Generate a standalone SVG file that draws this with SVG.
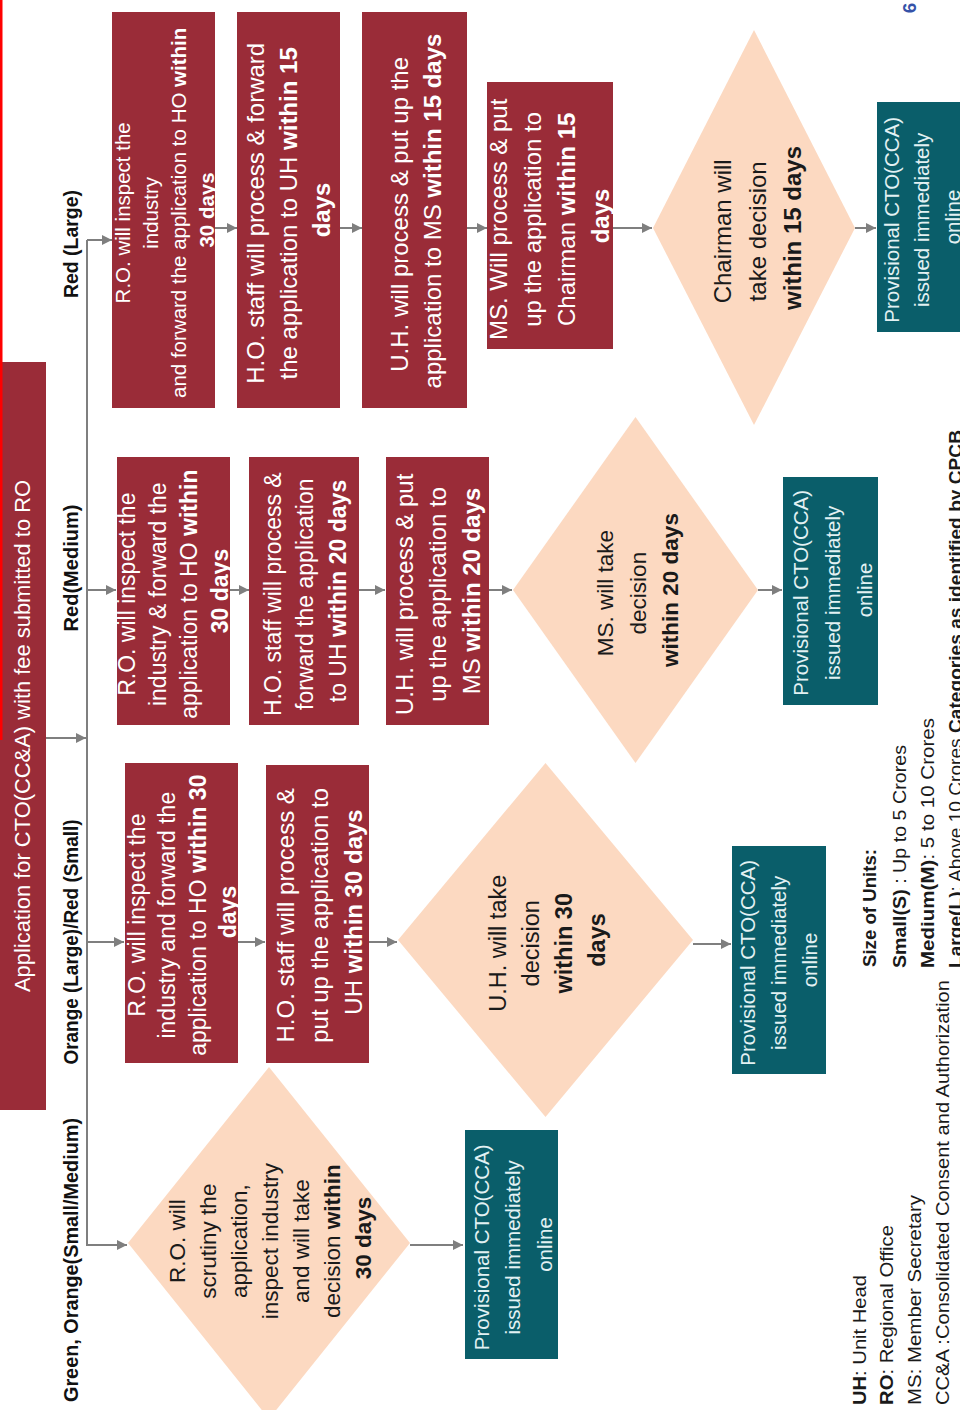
<svg xmlns="http://www.w3.org/2000/svg" width="960" height="1410" viewBox="0 0 960 1410">
<style>
.box{fill:#9A2C38}
.dia{fill:#FCD9C1}
.teal{fill:#0A5E6A}
text{font-family:"Liberation Sans",Arial,sans-serif}
.wt{fill:#ffffff;text-anchor:middle}
.dt{fill:#1a1a1a;text-anchor:middle}
.tt{fill:#E2F1F3;text-anchor:middle;font-size:20.5px}
.b{font-weight:bold}
.cat{fill:#111;font-weight:bold;font-size:19.5px;text-anchor:middle}
.leg{fill:#1a1a1a;font-size:19px}
.conn{stroke:#7f7f7f;stroke-width:2;fill:none}
.arr{marker-end:url(#ah)}
</style>
<defs>
<marker id="ah" viewBox="0 0 10 10" refX="10" refY="5" markerWidth="11" markerHeight="10" markerUnits="userSpaceOnUse" orient="auto">
<path d="M0,0 L10,5 L0,10 z" fill="#7f7f7f"/>
</marker>
</defs>
<rect width="960" height="1410" fill="#ffffff"/>

<g id="connectors">
<path class="conn arr" d="M46,738 H86"/>
<path class="conn" d="M87,240 V1246"/>
<path class="conn arr" d="M87,240 H112"/>
<path class="conn arr" d="M87,590 H116"/>
<path class="conn arr" d="M87,942 H124"/>
<path class="conn arr" d="M87,1245 H127"/>
<path class="conn arr" d="M215,228 H237"/>
<path class="conn arr" d="M340,228 H362"/>
<path class="conn arr" d="M467,228 H487"/>
<path class="conn arr" d="M613,228 H652"/>
<path class="conn arr" d="M855,228 H876"/>
<path class="conn arr" d="M230,590 H249"/>
<path class="conn arr" d="M359,590 H385"/>
<path class="conn arr" d="M489,590 H512"/>
<path class="conn arr" d="M758,590 H782"/>
<path class="conn arr" d="M228,942 H265"/>
<path class="conn arr" d="M362,942 H397"/>
<path class="conn arr" d="M693,944 H731"/>
<path class="conn arr" d="M410,1245 H463"/>
</g>

<g id="application">
<rect class="box" x="0" y="362" width="46" height="748"/>
<text class="wt" transform="translate(22,736) rotate(-90)" font-size="22" y="7.7" textLength="512" lengthAdjust="spacingAndGlyphs">Application for CTO(CC&amp;A) with fee submitted to RO</text>
</g>
<rect x="0" y="0" width="2.5" height="740" fill="#FF0000"/>

<g id="labels">
<text class="cat" transform="translate(71,244) rotate(-90)" y="6.8" textLength="108" lengthAdjust="spacingAndGlyphs">Red (Large)</text>
<text class="cat" transform="translate(71,568) rotate(-90)" y="6.8" textLength="127" lengthAdjust="spacingAndGlyphs">Red(Medium)</text>
<text class="cat" transform="translate(71,942) rotate(-90)" y="6.8" textLength="245" lengthAdjust="spacingAndGlyphs">Orange (Large)/Red (Small)</text>
<text class="cat" transform="translate(71,1260) rotate(-90)" y="6.8" textLength="284" lengthAdjust="spacingAndGlyphs">Green, Orange(Small/Medium)</text>
</g>

<g id="rl-ro">
<rect class="box" x="112" y="12" width="103" height="396"/>
<text class="wt" transform="translate(165,210) rotate(-90)" font-size="20.5">
<tspan x="0" y="-35">R.O.  will inspect  the</tspan>
<tspan x="0" y="-7">industry</tspan>
<tspan x="0" y="21">and forward the  application to HO <tspan class="b">within</tspan></tspan>
<tspan x="0" y="49" class="b">30 days</tspan>
</text>
</g>
<g id="rl-ho">
<rect class="box" x="237" y="12" width="103" height="396"/>
<text class="wt" transform="translate(289,210) rotate(-90)" font-size="24">
<tspan x="0" y="-24.6">H.O. staff will process &amp; forward</tspan>
<tspan x="0" y="8.4">the application to UH <tspan class="b">within 15</tspan></tspan>
<tspan x="0" y="41.4" class="b">days</tspan>
</text>
</g>
<g id="rl-uh">
<rect class="box" x="362" y="12" width="105" height="396"/>
<text class="wt" transform="translate(416.5,211) rotate(-90)" font-size="24">
<tspan x="0" y="-8.1">U.H. will process &amp; put up the</tspan>
<tspan x="0" y="24.9">application to MS <tspan class="b">within 15 days</tspan></tspan>
</text>
</g>
<g id="rl-ms">
<rect class="box" x="487" y="82" width="126" height="267"/>
<text class="wt" transform="translate(550,216) rotate(-90)" font-size="24">
<tspan x="0" y="-42.6">MS.  Will process &amp; put</tspan>
<tspan x="0" y="-8.6">up the application to</tspan>
<tspan x="0" y="25.4">Chairman <tspan class="b">within  15</tspan></tspan>
<tspan x="0" y="59.4" class="b">days</tspan>
</text>
</g>
<g id="rl-chairman">
<polygon class="dia" points="653,228 754,30 855,228 754,425"/>
<text class="dt" transform="translate(758,228) rotate(-90)" font-size="24">
<tspan x="0" y="-26.6">Chairman will</tspan>
<tspan x="0" y="8.4">take  decision</tspan>
<tspan x="0" y="43.4" class="b">within  15 days</tspan>
</text>
</g>
<g id="rl-cto">
<rect class="teal" x="877" y="102" width="95" height="230"/>
<text class="tt" transform="translate(922,217) rotate(-90)">
<tspan x="0" y="-23.3">Provisional CTO(CCA)</tspan>
<tspan x="0" y="7.2">issued immediately</tspan>
<tspan x="0" y="37.7">online</tspan>
</text>
</g>

<g id="rm-ro">
<rect class="box" x="117" y="457" width="113" height="268"/>
<text class="wt" transform="translate(173.5,591) rotate(-90)" font-size="23">
<tspan x="0" y="-38.5">R.O.  will inspect the</tspan>
<tspan x="0" y="-7.5">industry &amp; forward the</tspan>
<tspan x="0" y="23.5">application to HO <tspan class="b">within</tspan></tspan>
<tspan x="0" y="54.5" class="b">30 days</tspan>
</text>
</g>
<g id="rm-ho">
<rect class="box" x="249" y="457" width="110" height="268"/>
<text class="wt" transform="translate(305,591) rotate(-90)" font-size="23">
<tspan x="0" y="-24.5">H.O. staff will process &amp;</tspan>
<tspan x="0" y="8">forward the application</tspan>
<tspan x="0" y="40.5">to UH <tspan class="b">within 20 days</tspan></tspan>
</text>
</g>
<g id="rm-uh">
<rect class="box" x="386" y="457" width="103" height="268"/>
<text class="wt" transform="translate(438,591) rotate(-90)" font-size="24">
<tspan x="0" y="-25.1">U.H. will process &amp; put</tspan>
<tspan x="0" y="8.4">up the application to</tspan>
<tspan x="0" y="41.9">MS <tspan class="b">within 20 days</tspan></tspan>
</text>
</g>
<g id="rm-ms">
<polygon class="dia" points="513,590 635.5,417 758,590 635.5,763"/>
<text class="dt" transform="translate(638,590) rotate(-90)" font-size="22.5">
<tspan x="0" y="-24.6">MS.  will take</tspan>
<tspan x="0" y="7.9">decision</tspan>
<tspan x="0" y="40.4" class="b">within  20 days</tspan>
</text>
</g>
<g id="rm-cto">
<rect class="teal" x="783" y="477" width="95" height="228"/>
<text class="tt" transform="translate(833,590) rotate(-90)">
<tspan x="0" y="-24.8">Provisional CTO(CCA)</tspan>
<tspan x="0" y="7.2">issued immediately</tspan>
<tspan x="0" y="39.2">online</tspan>
</text>
</g>

<g id="or-ro">
<rect class="box" x="125" y="763" width="113" height="300"/>
<text class="wt" transform="translate(182.5,912) rotate(-90)" font-size="23">
<tspan x="0" y="-37.7">R.O.  will  inspect  the</tspan>
<tspan x="0" y="-7.2">industry and forward the</tspan>
<tspan x="0" y="23.3">application to HO <tspan class="b">within  30</tspan></tspan>
<tspan x="0" y="53.8" class="b">days</tspan>
</text>
</g>
<g id="or-ho">
<rect class="box" x="266" y="765" width="103" height="298"/>
<text class="wt" transform="translate(320,912) rotate(-90)" font-size="24">
<tspan x="0" y="-25.6">H.O. staff will  process &amp;</tspan>
<tspan x="0" y="8.4">put up the application to</tspan>
<tspan x="0" y="42.4">UH <tspan class="b">within 30 days</tspan></tspan>
</text>
</g>
<g id="or-uh">
<polygon class="dia" points="398,940 545.5,763 693,940 545.5,1117"/>
<text class="dt" transform="translate(547,940) rotate(-90)" font-size="23.5">
<tspan x="0" y="-41.3">U.H.  will  take</tspan>
<tspan x="0" y="-8.3">decision</tspan>
<tspan x="0" y="24.7" class="b">within  30</tspan>
<tspan x="0" y="57.7" class="b">days</tspan>
</text>
</g>
<g id="or-cto">
<rect class="teal" x="732" y="846" width="94" height="228"/>
<text class="tt" transform="translate(779,960) rotate(-90)">
<tspan x="0" y="-23.8">Provisional CTO(CCA)</tspan>
<tspan x="0" y="7.2">issued immediately</tspan>
<tspan x="0" y="38.2">online</tspan>
</text>
</g>

<g id="gr-ro">
<polygon class="dia" points="128,1243 269,1067 410,1243 269,1419"/>
<text class="dt" transform="translate(270,1238) rotate(-90)" font-size="22.5">
<tspan x="0" y="-85.1">R.O.  will</tspan>
<tspan x="0" y="-54.1">scrutiny  the</tspan>
<tspan x="0" y="-23.1">application,</tspan>
<tspan x="0" y="7.9">inspect industry</tspan>
<tspan x="0" y="38.9">and will take</tspan>
<tspan x="0" y="69.9">decision <tspan class="b">within</tspan></tspan>
<tspan x="0" y="100.9" class="b">30 days</tspan>
</text>
</g>
<g id="gr-cto">
<rect class="teal" x="465" y="1130" width="93" height="229"/>
<text class="tt" transform="translate(513,1244.5) rotate(-90)">
<tspan x="0" y="-24.3">Provisional CTO(CCA)</tspan>
<tspan x="0" y="7.2">issued immediately</tspan>
<tspan x="0" y="38.7">online</tspan>
</text>
</g>

<g id="legend">
<text class="leg" transform="translate(866,1405) rotate(-90)" textLength="130" lengthAdjust="spacingAndGlyphs"><tspan class="b">UH</tspan>: Unit Head</text>
<text class="leg" transform="translate(893,1405) rotate(-90)" textLength="180" lengthAdjust="spacingAndGlyphs"><tspan class="b">RO</tspan>: Regional Office</text>
<text class="leg" transform="translate(921,1405) rotate(-90)" textLength="210" lengthAdjust="spacingAndGlyphs">MS: Member Secretary</text>
<text class="leg" transform="translate(949,1405) rotate(-90)" textLength="425" lengthAdjust="spacingAndGlyphs">CC&amp;A :Consolidated Consent and Authorization</text>
<text class="leg b" transform="translate(876,967) rotate(-90)" textLength="118" lengthAdjust="spacingAndGlyphs">Size of Units:</text>
<text class="leg" transform="translate(906,968) rotate(-90)" textLength="223" lengthAdjust="spacingAndGlyphs"><tspan class="b">Small(S)</tspan> : Up to 5 Crores</text>
<text class="leg" transform="translate(934,968) rotate(-90)" textLength="250" lengthAdjust="spacingAndGlyphs"><tspan class="b">Medium(M)</tspan>: 5 to 10 Crores</text>
<text class="leg" transform="translate(962,968) rotate(-90)" textLength="538" lengthAdjust="spacingAndGlyphs"><tspan class="b">Large(L)</tspan>: Above 10 Crores  <tspan class="b">Categories as identified by CPCB</tspan></text>
</g>
<text transform="translate(909,8) rotate(-90)" font-size="19" font-weight="bold" fill="#3552A8" text-anchor="middle" y="7">6</text>
</svg>
